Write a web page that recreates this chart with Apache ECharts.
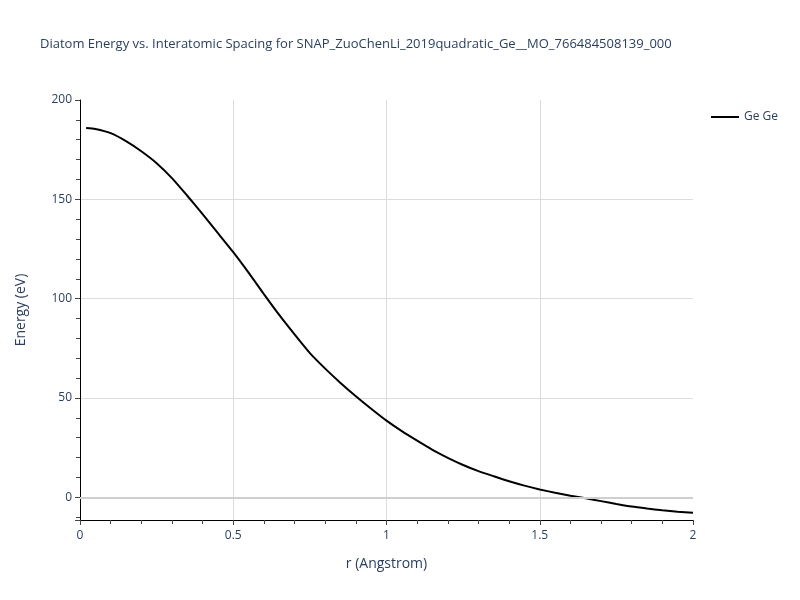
<!DOCTYPE html>
<html>
<head>
<meta charset="utf-8">
<script src="https://cdn.jsdelivr.net/npm/echarts@6/dist/echarts.min.js"></script>
<style>
  html, body { margin: 0; padding: 0; background: #fff; }
  #main { width: 800px; height: 600px; }
</style>
</head>
<body>
<div id="main"></div>
<script>
// 读图得到的数据 (r in Angstrom, energy in eV)
const rValues = [0.02, 0.05, 0.10, 0.15, 0.20, 0.25, 0.30, 0.35, 0.40, 0.45,
  0.50, 0.55, 0.60, 0.65, 0.70, 0.75, 0.80, 0.85, 0.90, 0.95,
  1.00, 1.05, 1.10, 1.15, 1.20, 1.25, 1.30, 1.35, 1.40, 1.45,
  1.50, 1.55, 1.60, 1.65, 1.70, 1.75, 1.80, 1.85, 1.90, 1.95, 2.00];
const energyGeGe = [185.9, 185.4, 183.3, 179.3, 174.2, 168.2, 160.7, 151.8, 142.6, 133.0,
  123.4, 113.1, 102.3, 91.8, 82.0, 72.6, 64.8, 57.6, 50.9, 44.6,
  38.6, 33.3, 28.5, 23.9, 19.9, 16.3, 13.2, 10.6, 8.1, 5.9,
  4.0, 2.3, 0.8, -0.5, -1.9, -3.3, -4.6, -5.6, -6.5, -7.2, -7.8];
const seriesName = "Ge Ge";
const titleText = "Diatom Energy vs. Interatomic Spacing for SNAP_ZuoChenLi_2019quadratic_Ge__MO_766484508139_000";

const textColor = "#2a3f5f";
const fontName = "Open Sans";

const chart = echarts.init(document.getElementById("main"));

const points = rValues.map((r, i) => [r, energyGeGe[i]]);

const option = {
  backgroundColor: "#fff",
  animation: false,
  title: {
    text: titleText,
    left: 35,
    top: 33,
    textStyle: {
      color: textColor,
      fontFamily: fontName,
      fontSize: 13,
      fontWeight: "normal"
    }
  },
  legend: {
    left: 706,
    top: 106,
    itemWidth: 28,
    itemHeight: 2,
    itemGap: 6,
    icon: "rect",
    data: [seriesName],
    textStyle: {
      color: textColor,
      fontFamily: fontName,
      fontSize: 12
    }
  },
  grid: {
    left: 80,
    right: 107,
    top: 100,
    bottom: 80,
    containLabel: false
  },
  xAxis: {
    type: "value",
    min: 0,
    max: 2,
    interval: 0.5,
    name: "r (Angstrom)",
    nameLocation: "middle",
    nameGap: 37,
    nameTextStyle: { color: textColor, fontFamily: fontName, fontSize: 14 },
    axisLine: { show: true, onZero: false, lineStyle: { color: "#000", width: 1 } },
    axisTick: { show: true, length: 5, lineStyle: { color: "#444" } },
    minorTick: { show: true, splitNumber: 5, length: 4, lineStyle: { color: "#444" } },
    axisLabel: {
      color: textColor,
      fontFamily: fontName,
      fontSize: 12,
      margin: 10,
      formatter: v => String(+v.toFixed(2))
    },
    splitLine: {
      show: true,
      showMinLine: false,
      showMaxLine: false,
      lineStyle: { color: "#dcdcdc", width: 1 }
    }
  },
  yAxis: {
    type: "value",
    min: -11.4,
    max: 200,
    splitNumber: 5,
    name: "Energy (eV)",
    nameLocation: "middle",
    nameGap: 52,
    nameTextStyle: { color: textColor, fontFamily: fontName, fontSize: 14 },
    axisLine: { show: true, onZero: false, lineStyle: { color: "#000", width: 1 } },
    axisTick: { show: true, length: 5, lineStyle: { color: "#444" } },
    minorTick: { show: true, splitNumber: 5, length: 4, lineStyle: { color: "#444" } },
    axisLabel: {
      color: textColor,
      fontFamily: fontName,
      fontSize: 12,
      margin: 8,
      showMinLabel: false,
      // 只显示 50 的倍数
      formatter: v => (Math.abs(v % 50) < 1e-6 ? String(v) : "")
    },
    splitLine: {
      show: true,
      showMinLine: false,
      showMaxLine: false,
      lineStyle: { color: "#dcdcdc", width: 1 }
    }
  },
  series: [
    {
      // 零线
      type: "line",
      data: [],
      z: 1,
      silent: true,
      markLine: {
        silent: true,
        symbol: "none",
        label: { show: false },
        lineStyle: { color: "#cfcfcf", width: 2, type: "solid" },
        data: [{ yAxis: 0 }]
      }
    },
    {
      name: seriesName,
      type: "line",
      z: 3,
      data: points,
      showSymbol: false,
      smooth: 0.2,
      color: "#000",
      lineStyle: { color: "#000", width: 2 }
    }
  ]
};

chart.setOption(option);
</script>
</body>
</html>
